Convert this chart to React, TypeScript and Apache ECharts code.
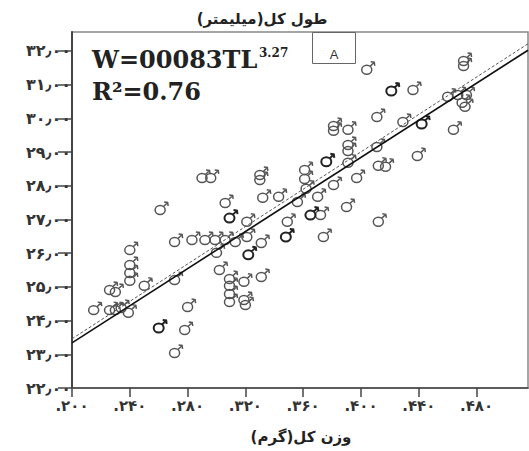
import React, { useEffect, useRef } from "react";
import * as echarts from "echarts";

const xTicks = [0.2, 0.24, 0.28, 0.32, 0.36, 0.4, 0.44, 0.48];
const xTickLabels = [".۲۰۰", ".۲۴۰", ".۲۸۰", ".۳۲۰", ".۳۶۰", ".۴۰۰", ".۴۴۰", ".۴۸۰"];
const yTicks = [22, 23, 24, 25, 26, 27, 28, 29, 30, 31, 32];
const yTickLabels = ["۲۲٫۰۰", "۲۳٫۰۰", "۲۴٫۰۰", "۲۵٫۰۰", "۲۶٫۰۰", "۲۷٫۰۰", "۲۸٫۰۰", "۲۹٫۰۰", "۳۰٫۰۰", "۳۱٫۰۰", "۳۲٫۰۰"];

const xTitle = "وزن کل(گرم)";
const yTitle = "طول کل(میلیمتر)";
const equationMain = "W=00083TL";
const equationExp = "3.27";
const rSquared = "R²=0.76";
const panelLabel = "A";

// [weight (g), total length (mm)] — light symbols
const lightPoints: [number, number][] = [
  [0.404, 31.44], [0.471, 31.7], [0.471, 31.55], [0.436, 30.84], [0.46, 30.64],
  [0.467, 30.69], [0.473, 30.69], [0.47, 30.46], [0.472, 30.34], [0.411, 30.04],
  [0.429, 29.89], [0.464, 29.66], [0.439, 28.88], [0.381, 29.77], [0.381, 29.63],
  [0.391, 29.66], [0.391, 29.21], [0.391, 29.03], [0.411, 29.15], [0.391, 28.68],
  [0.412, 28.59], [0.417, 28.56], [0.397, 28.23], [0.381, 28.02], [0.361, 28.47],
  [0.361, 28.2], [0.362, 27.91], [0.33, 28.32], [0.33, 28.17], [0.332, 27.64],
  [0.343, 27.67], [0.356, 27.52], [0.37, 27.67], [0.372, 27.13], [0.39, 27.37],
  [0.349, 26.93], [0.412, 26.93], [0.374, 26.48], [0.331, 26.3], [0.331, 25.29],
  [0.29, 28.23], [0.296, 28.23], [0.261, 27.28], [0.306, 27.49], [0.321, 26.93],
  [0.271, 26.33], [0.283, 26.39], [0.292, 26.39], [0.299, 26.39], [0.306, 26.39],
  [0.313, 26.33], [0.321, 26.48], [0.24, 26.09], [0.3, 26.01], [0.24, 25.65],
  [0.24, 25.41], [0.24, 25.18], [0.226, 24.91], [0.23, 24.85], [0.25, 25.03],
  [0.271, 25.2], [0.302, 25.5], [0.309, 25.23], [0.309, 25.03], [0.309, 24.79],
  [0.309, 24.55], [0.319, 25.15], [0.319, 24.61], [0.32, 24.46], [0.215, 24.31],
  [0.226, 24.31], [0.23, 24.31], [0.234, 24.37], [0.239, 24.23], [0.28, 24.4],
  [0.278, 23.72], [0.271, 23.04],
];

// darker (bold) symbols
const darkPoints: [number, number][] = [
  [0.421, 30.81], [0.442, 29.83], [0.376, 28.71], [0.365, 27.13],
  [0.348, 26.48], [0.322, 25.95], [0.309, 27.04], [0.26, 23.78],
];

const fitX = [0.2, 0.5156];
const fitSolidY = [23.34, 32.02];
const fitDashedY = [23.46, 32.21];

const maleSymbol =
  "path://M0,8.5A5,4.5,0,1,0,10,8.5A5,4.5,0,1,0,0,8.5Z M8.2,5.3L12,1.5 M9,0.5L12.5,1L13,4.5 M13,0L13,0.01";

const pickLabel = (ticks: number[], labels: string[]) => (v: number) => {
  const i = ticks.findIndex((t) => Math.abs(t - v) < 1e-6);
  return i >= 0 ? labels[i] : "";
};

export default function App() {
  const ref = useRef<HTMLDivElement>(null);
  useEffect(() => {
    if (!ref.current) return;
    const chart = echarts.init(ref.current, null, { renderer: "svg" });
    const axisFont = { fontFamily: "DejaVu Sans", fontWeight: "bold" as const, color: "#333" };
    chart.setOption({
      animation: false,
      backgroundColor: "#fff",
      grid: {
        left: 72, right: 1, top: 32, bottom: 63,
        show: true, borderColor: "#888", borderWidth: 1.5,
      },
      xAxis: {
        type: "value", min: 0.2, max: 0.5156, interval: 0.04,
        splitLine: { show: false },
        axisLine: { show: true, onZero: false, lineStyle: { color: "#444", width: 1.5 } },
        axisTick: { show: true, customValues: xTicks, length: 9, lineStyle: { color: "#444", width: 1.5 } },
        axisLabel: { customValues: xTicks, formatter: pickLabel(xTicks, xTickLabels), margin: 10, fontSize: 15, ...axisFont },
      },
      yAxis: {
        type: "value", min: 22, max: 32.56, interval: 1,
        splitLine: { show: false },
        axisLine: { show: true, onZero: false, lineStyle: { color: "#444", width: 2 } },
        axisTick: { show: true, customValues: yTicks, length: 14, lineStyle: { color: "#444", width: 1.5 } },
        axisLabel: { customValues: yTicks, formatter: pickLabel(yTicks, yTickLabels), margin: 1, fontSize: 16, ...axisFont },
      },
      graphic: [
        {
          type: "text", x: 262, y: 19, z: 10,
          style: { text: "\u202B" + yTitle + "\u202C", align: "center", verticalAlign: "middle", font: 'bold 15px "DejaVu Sans"', fill: "#222" },
        },
        {
          type: "text", x: 301, y: 437, z: 10,
          style: { text: "\u202B" + xTitle + "\u202C", align: "center", verticalAlign: "middle", font: 'bold 15px "DejaVu Sans"', fill: "#222" },
        },
        {
          type: "text", x: 92, y: 59, z: 10,
          style: { text: equationMain, verticalAlign: "middle", font: 'bold 24px "DejaVu Serif"', fill: "#222" },
        },
        {
          type: "text", x: 259, y: 53, z: 10,
          style: { text: equationExp, verticalAlign: "middle", font: 'bold 12px "DejaVu Serif"', fill: "#222" },
        },
        {
          type: "text", x: 92, y: 91, z: 10,
          style: { text: rSquared, verticalAlign: "middle", font: 'bold 24px "DejaVu Serif"', fill: "#222" },
        },
        {
          type: "rect", z: 10, shape: { x: 312.5, y: 32.5, width: 43, height: 31 },
          style: { fill: "#fff", stroke: "#666", lineWidth: 1 },
        },
        {
          type: "text", x: 334, y: 54, z: 11,
          style: { text: panelLabel, align: "center", verticalAlign: "middle", font: '13px "Liberation Sans"', fill: "#333" },
        },
      ],
      series: [
        {
          type: "scatter", data: lightPoints, symbol: maleSymbol, symbolSize: [13, 13], symbolOffset: [1.5, -2],
          itemStyle: { color: "transparent", borderColor: "#555", borderWidth: 1.5, opacity: 1 },
          z: 2,
        },
        {
          type: "scatter", data: darkPoints, symbol: maleSymbol, symbolSize: [13, 13], symbolOffset: [1.5, -2],
          itemStyle: { color: "transparent", borderColor: "#222", borderWidth: 2, opacity: 1 },
          z: 2,
        },
        {
          type: "line", data: fitX.map((x, i) => [x, fitDashedY[i]]), symbol: "none",
          lineStyle: { color: "#555", width: 1, type: [3, 2] }, z: 3,
        },
        {
          type: "line", data: fitX.map((x, i) => [x, fitSolidY[i]]), symbol: "none",
          lineStyle: { color: "#111", width: 1.6 }, z: 4,
        },
      ],
    });
    return () => chart.dispose();
  }, []);
  return <div ref={ref} style={{ width: 529, height: 451, position: "absolute", left: 0, top: 0 }} />;
}
